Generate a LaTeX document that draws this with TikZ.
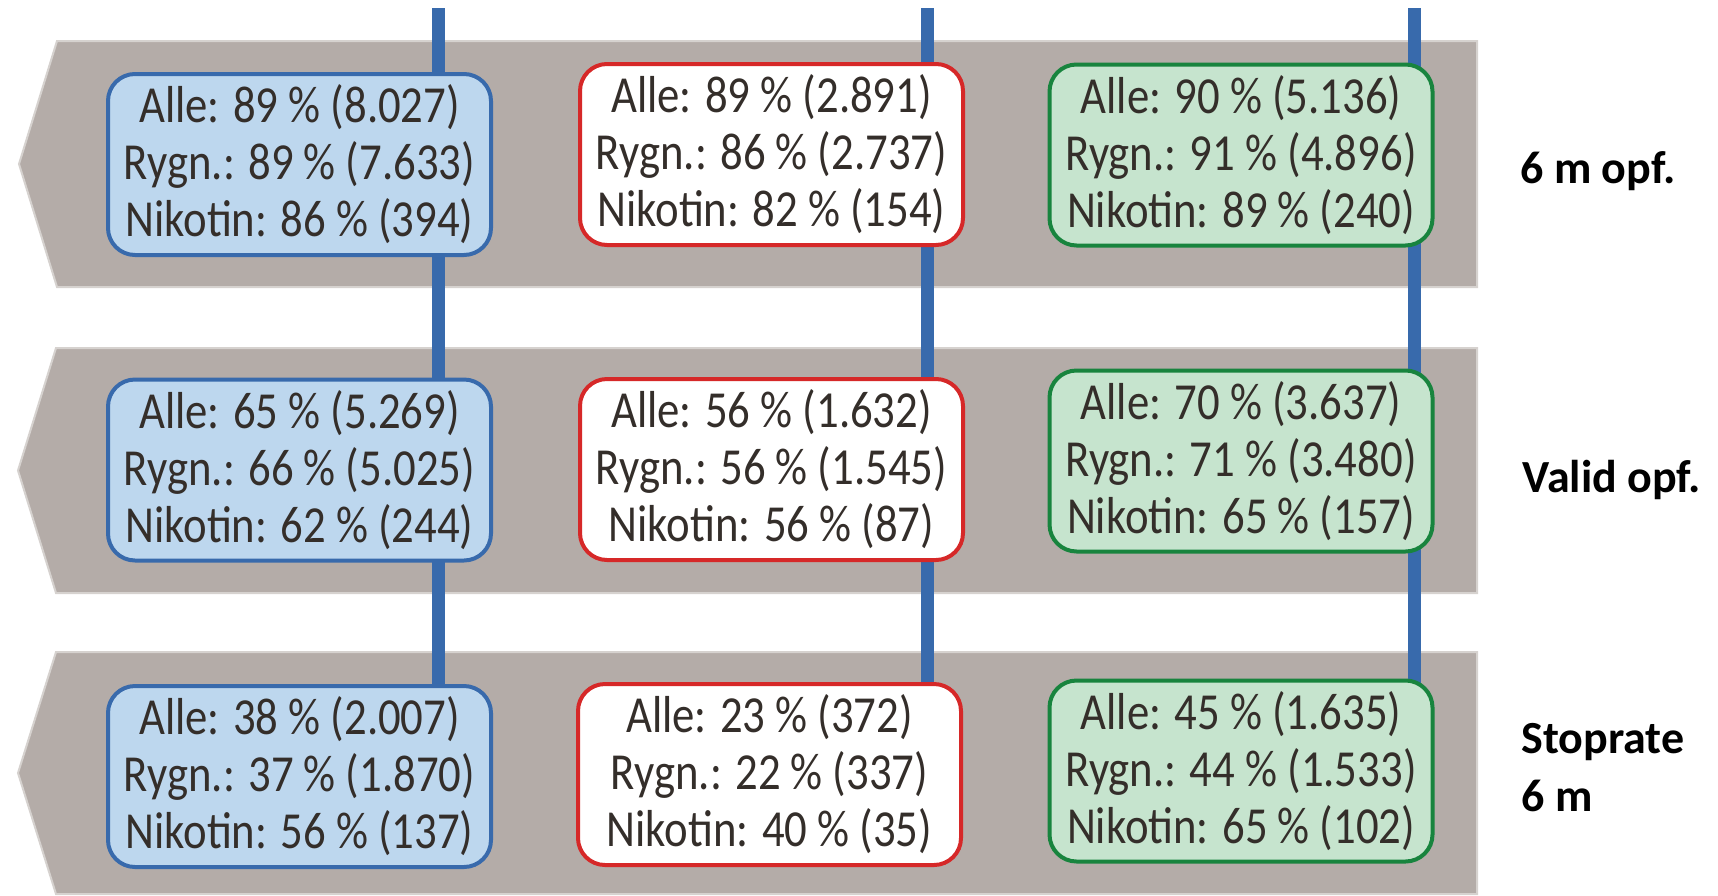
\documentclass[tikz,border=0pt]{standalone}
\usepackage{fontspec}
\setmainfont{Carlito}
\newfontfamily\boxfont[FakeStretch=0.86]{Carlito}
\pgfdeclarelayer{bands}
\pgfdeclarelayer{lines}
\pgfsetlayers{bands,lines,main}
\definecolor{bandgray}{RGB}{180,172,168}
\definecolor{bandedge}{RGB}{214,210,207}
\definecolor{lineblue}{RGB}{56,106,172}
\definecolor{fillblue}{RGB}{189,215,238}
\definecolor{boxred}{RGB}{214,40,40}
\definecolor{boxgreen}{RGB}{24,132,62}
\definecolor{fillgreen}{RGB}{198,228,206}
\definecolor{txtgray}{RGB}{52,46,42}
\tikzset{
  statbox/.style={rounded corners=13.5pt, line width=2pt, minimum width=191.5pt,
    minimum height=90.5pt, inner sep=0pt, align=center, text=txtgray,
    font=\boxfont\fontsize{26}{28.5}\selectfont},
  bluebox/.style={statbox, draw=lineblue, fill=fillblue},
  redbox/.style={statbox, draw=boxred, fill=white},
  greenbox/.style={statbox, draw=boxgreen, fill=fillgreen},
  band/.style={fill=bandgray, draw=bandedge, line width=1pt},
  vline/.style={draw=lineblue, line width=6.5pt},
  rowlabel/.style={font=\bfseries\fontsize{23}{29}\selectfont, inner sep=0pt, align=left, text=black}
}
\begin{document}
\begin{tikzpicture}[x=0.5pt,y=-0.5pt]
\useasboundingbox (0,0) rectangle (1718,895);

% boxes row 1
\node[bluebox]  (b1) at (299.5,164.5) {Alle: 89 \% (8.027)\\Rygn.: 89 \% (7.633)\\Nikotin: 86 \% (394)};
\node[redbox]   (r1) at (771.5,154.5) {Alle: 89 \% (2.891)\\Rygn.: 86 \% (2.737)\\Nikotin: 82 \% (154)};
\node[greenbox] (g1) at (1241,155)    {Alle: 90 \% (5.136)\\Rygn.: 91 \% (4.896)\\Nikotin: 89 \% (240)};
% boxes row 2
\node[bluebox]  (b2) at (299.5,470)   {Alle: 65 \% (5.269)\\Rygn.: 66 \% (5.025)\\Nikotin: 62 \% (244)};
\node[redbox]   (r2) at (771.5,469.5) {Alle: 56 \% (1.632)\\Rygn.: 56 \% (1.545)\\Nikotin: 56 \% (87)};
\node[greenbox] (g2) at (1241,461)    {Alle: 70 \% (3.637)\\Rygn.: 71 \% (3.480)\\Nikotin: 65 \% (157)};
% boxes row 3
\node[bluebox]  (b3) at (299.5,776.5) {Alle: 38 \% (2.007)\\Rygn.: 37 \% (1.870)\\Nikotin: 56 \% (137)};
\node[redbox]   (r3) at (769.5,774.5) {Alle: 23 \% (372)\\Rygn.: 22 \% (337)\\Nikotin: 40 \% (35)};
\node[greenbox] (g3) at (1241,771)    {Alle: 45 \% (1.635)\\Rygn.: 44 \% (1.533)\\Nikotin: 65 \% (102)};

% row labels
\node[rowlabel, anchor=base west] (l1) at (1520,183) {6 m opf.};
\node[rowlabel, anchor=base west] (l2) at (1522,492) {Valid opf.};
\node[rowlabel, anchor=north west] (l3) at (1521,723) {Stoprate\\6 m};

% line tops
\coordinate (t1) at (438,8);
\coordinate (t2) at (927,8);
\coordinate (t3) at (1414,8);

\begin{pgfonlayer}{lines}
  \draw[vline] (t1) -- (t1 |- b3.center);
  \draw[vline] (t2) -- (t2 |- r3.center);
  \draw[vline] (t3) -- (t3 |- g3.center);
\end{pgfonlayer}

\begin{pgfonlayer}{bands}
  \path[band] (57,41) -- (1477,41) -- (1477,287) -- (57,287) -- (19,164) -- cycle;
  \path[band] (56,348) -- (1477,348) -- (1477,593) -- (56,593) -- (18,470.5) -- cycle;
  \path[band] (56,652) -- (1477,652) -- (1477,894) -- (56,894) -- (18,773) -- cycle;
\end{pgfonlayer}
\end{tikzpicture}
\end{document}
